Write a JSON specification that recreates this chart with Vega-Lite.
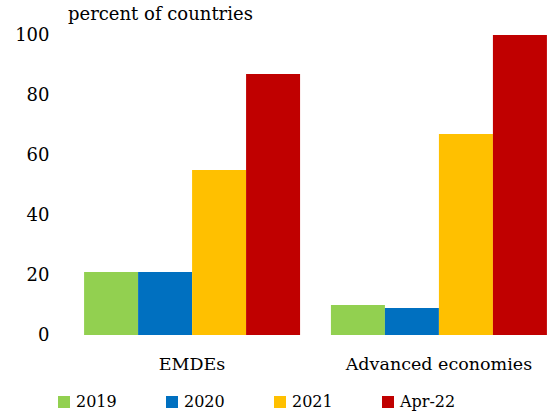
{
  "$schema": "https://vega.github.io/schema/vega-lite/v6.json",
  "autosize": "none",
  "width": 469,
  "height": 300,
  "padding": {"left": 81, "top": 35, "right": 0, "bottom": 82},
  "background": "white",
  "title": {"text": "percent of countries", "anchor": "start", "frame": "group", "dx": -13, "offset": 2, "font": "DejaVu Serif", "fontSize": 18, "fontWeight": "normal", "color": "#000000"},
  "data": {"values": [
    {"group": "EMDEs", "year": "2019", "value": 21},
    {"group": "EMDEs", "year": "2020", "value": 21},
    {"group": "EMDEs", "year": "2021", "value": 55},
    {"group": "EMDEs", "year": "Apr-22", "value": 87},
    {"group": "Advanced economies", "year": "2019", "value": 10},
    {"group": "Advanced economies", "year": "2020", "value": 9},
    {"group": "Advanced economies", "year": "2021", "value": 67},
    {"group": "Advanced economies", "year": "Apr-22", "value": 100}
  ]},
  "mark": {"type": "bar"},
  "encoding": {
    "x": {"field": "group", "type": "nominal", "sort": ["EMDEs", "Advanced economies"],
      "scale": {"paddingInner": 0.125, "paddingOuter": 0.0125},
      "axis": {"title": null, "labelAngle": 0, "domain": false, "ticks": false, "labelPadding": 20, "labelLimit": 400, "labelFont": "DejaVu Serif", "labelFontSize": 17.5, "labelColor": "#000000"}},
    "xOffset": {"field": "year", "type": "nominal", "sort": ["2019", "2020", "2021", "Apr-22"]},
    "y": {"field": "value", "type": "quantitative",
      "scale": {"domain": [0, 100], "nice": false},
      "axis": {"title": null, "values": [0, 20, 40, 60, 80, 100], "grid": false, "domain": false, "ticks": false, "labelPadding": 32, "labelFont": "DejaVu Serif", "labelFontSize": 18, "labelColor": "#000000"}},
    "color": {"field": "year", "type": "nominal", "sort": ["2019", "2020", "2021", "Apr-22"],
      "scale": {"domain": ["2019", "2020", "2021", "Apr-22"], "range": ["#92D050", "#0070C0", "#FFC000", "#C00000"]},
      "legend": {"title": null, "orient": "none", "legendX": -25, "legendY": 359, "direction": "horizontal", "columns": 4, "gridAlign": "all", "symbolType": "square", "symbolSize": 144, "symbolStrokeWidth": 0, "symbolOffset": 0, "labelOffset": 4, "columnPadding": 32, "labelFont": "DejaVu Serif", "labelFontSize": 16, "labelColor": "#000000"}}
  },
  "config": {"view": {"stroke": null}}
}
